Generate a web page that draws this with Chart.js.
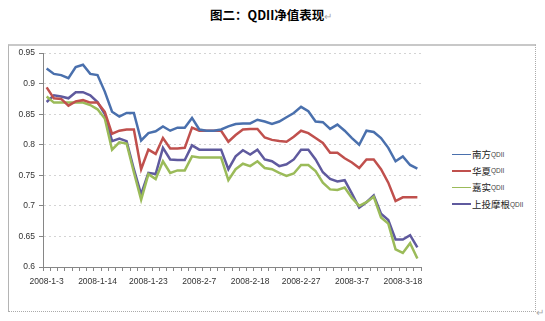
<!DOCTYPE html>
<html>
<head>
<meta charset="utf-8">
<script src="https://cdn.jsdelivr.net/npm/chart.js@4/dist/chart.umd.min.js"></script>
<style>
  body { margin: 0; width: 545px; height: 321px; background: #fff; position: relative; overflow: hidden; font-family: "Noto Sans CJK SC", sans-serif; }
  #title { position: absolute; left: 210px; top: 5px; font-size: 12.5px; font-weight: bold; color: #000; white-space: nowrap; }
  .mark { color: #aaa; font-weight: normal; font-size: 10px; }
  #frame { position: absolute; left: 8px; top: 44px; width: 528px; height: 268px; border-top: 2px solid #c8c8c8; border-left: 1px solid #b4b4b4; border-right: 1px dotted #aaa; border-bottom: 1px dotted #aaa; box-sizing: border-box; }
  #wrap { position: absolute; left: 0; top: 44px; }
  #legend { position: absolute; left: 452px; top: 146px; }
  .item { height: 16.6px; display: flex; align-items: center; white-space: nowrap; }
  .item i { display: inline-block; width: 19px; height: 1.5px; margin-right: 1px; }
  .item span { font-size: 9.5px; color: #222; }
  .item small { font-size: 6.5px; color: #444; font-family: "Liberation Sans", sans-serif; }
  #endmark { position: absolute; left: 536px; top: 304px; }
</style>
</head>
<body>
<div id="title">图二：QDII净值表现<span class="mark">↵</span></div>
<div id="frame"></div>
<div id="wrap"><canvas id="line-chart" width="425" height="269"></canvas></div>
<div id="legend"></div>
<div id="endmark" class="mark">↵</div>
<script>
const dates = [
  "2008-1-3", "2008-1-4", "2008-1-7", "2008-1-8", "2008-1-9", "2008-1-10", "2008-1-11",
  "2008-1-14", "2008-1-15", "2008-1-16", "2008-1-17", "2008-1-18", "2008-1-21", "2008-1-22",
  "2008-1-23", "2008-1-25", "2008-1-28", "2008-1-29", "2008-1-30", "2008-1-31", "2008-2-1",
  "2008-2-7", "2008-2-8", "2008-2-11", "2008-2-12", "2008-2-13", "2008-2-14", "2008-2-15",
  "2008-2-18", "2008-2-19", "2008-2-20", "2008-2-21", "2008-2-22", "2008-2-25", "2008-2-26",
  "2008-2-27", "2008-2-28", "2008-2-29", "2008-3-3", "2008-3-4", "2008-3-5", "2008-3-6",
  "2008-3-7", "2008-3-10", "2008-3-11", "2008-3-12", "2008-3-13", "2008-3-14", "2008-3-17",
  "2008-3-18", "2008-3-19", "2008-3-20",
];
const seriesNames = ["南方", "华夏", "嘉实", "上投摩根"];
const colors = ["#4a70ad", "#c0504d", "#9bbb59", "#5f5a9e"];

const nanfang = [
  0.925, 0.916, 0.914, 0.909, 0.927, 0.931, 0.916, 0.914, 0.887, 0.854, 0.846, 0.852, 0.852,
  0.807, 0.819, 0.822, 0.830, 0.823, 0.828, 0.828, 0.844, 0.825, 0.823, 0.823, 0.825, 0.830,
  0.834, 0.835, 0.835, 0.841, 0.838, 0.834, 0.838, 0.845, 0.852, 0.862, 0.855, 0.838, 0.837,
  0.826, 0.833, 0.823, 0.811, 0.800, 0.823, 0.821, 0.811, 0.795, 0.773, 0.781, 0.767, 0.761,
];
const huaxia = [
  0.894, 0.876, 0.875, 0.864, 0.871, 0.873, 0.869, 0.869, 0.854, 0.818, 0.823, 0.825, 0.825,
  0.760, 0.792, 0.785, 0.811, 0.794, 0.794, 0.795, 0.828, 0.823, 0.823, 0.823, 0.823, 0.805,
  0.816, 0.825, 0.826, 0.826, 0.812, 0.808, 0.806, 0.805, 0.813, 0.823, 0.819, 0.811, 0.803,
  0.787, 0.787, 0.778, 0.771, 0.762, 0.776, 0.776, 0.760, 0.738, 0.708, 0.714, 0.714, 0.714,
];
const jiashi = [
  0.879, 0.869, 0.869, 0.869, 0.869, 0.869, 0.865, 0.858, 0.843, 0.792, 0.804, 0.802, 0.755,
  0.710, 0.752, 0.744, 0.773, 0.754, 0.758, 0.758, 0.781, 0.779, 0.779, 0.779, 0.779, 0.742,
  0.760, 0.769, 0.765, 0.773, 0.762, 0.760, 0.754, 0.749, 0.753, 0.767, 0.767, 0.757, 0.738,
  0.727, 0.726, 0.730, 0.713, 0.700, 0.706, 0.715, 0.681, 0.671, 0.629, 0.623, 0.639, 0.614,
];
const shangtou = [
  0.870, 0.881, 0.879, 0.876, 0.886, 0.886, 0.881, 0.870, 0.850, 0.806, 0.810, 0.806, 0.760,
  0.719, 0.754, 0.752, 0.795, 0.776, 0.775, 0.775, 0.799, 0.792, 0.792, 0.792, 0.792, 0.760,
  0.781, 0.791, 0.784, 0.792, 0.776, 0.773, 0.765, 0.768, 0.776, 0.792, 0.792, 0.776, 0.755,
  0.744, 0.740, 0.742, 0.720, 0.697, 0.706, 0.717, 0.687, 0.677, 0.645, 0.645, 0.652, 0.632,
];
const yTicks = [0.6, 0.65, 0.7, 0.75, 0.8, 0.85, 0.9, 0.95];
const labelEvery = 7;

const values = [nanfang, huaxia, jiashi, shangtou];
const tickFont = { family: "Liberation Sans", size: 8.5 };
const axisGray = "#868686";

const chart = new Chart(document.getElementById("line-chart"), {
  type: "line",
  data: {
    labels: dates,
    datasets: seriesNames.map((name, i) => ({
      label: name + "QDII",
      data: values[i],
      borderColor: colors[i],
      borderWidth: 2.5,
      pointRadius: 0,
      tension: 0,
      fill: false,
    })),
  },
  options: {
    responsive: false,
    animation: false,
    layout: { padding: { left: 0, right: 4, top: 7, bottom: 16 } },
    plugins: { legend: { display: false }, tooltip: { enabled: false } },
    scales: {
      x: {
        offset: true,
        grid: { drawOnChartArea: false, offset: true, tickLength: 4, color: axisGray },
        border: { color: axisGray },
        ticks: {
          autoSkip: false,
          maxRotation: 0,
          padding: 6,
          color: "#333",
          font: tickFont,
          callback(v, i) { return i % labelEvery === 0 ? this.getLabelForValue(v) : ""; },
        },
        afterFit(s) { s.height = 30; },
      },
      y: {
        min: 0.6,
        max: 0.95,
        afterBuildTicks(s) { s.ticks = yTicks.map((v) => ({ value: v })); },
        grid: { color: "#d4d4d4", tickLength: 4, tickColor: axisGray },
        border: { color: axisGray, dash: [2, 3] },
        ticks: { padding: 4, color: "#333", font: tickFont, callback: (v) => String(+v.toFixed(2)) },
        afterFit(s) { s.width = 43; },
      },
    },
  },
});

// Excel-style legend on the right, names with small "QDII"
const legend = document.getElementById("legend");
chart.data.datasets.forEach((ds, i) => {
  const row = document.createElement("div");
  row.className = "item";
  row.innerHTML = '<i style="background:' + ds.borderColor + '"></i><span>' + seriesNames[i] + "</span><small>QDII</small>";
  legend.appendChild(row);
});
</script>
</body>
</html>
